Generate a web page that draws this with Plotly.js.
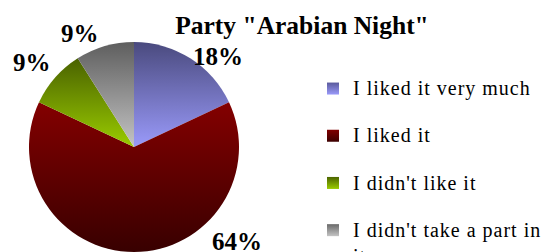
<!DOCTYPE html>
<html>
<head>
<meta charset="utf-8">
<script src="https://cdn.plot.ly/plotly-3.0.1.min.js"></script>
<style>
  html, body { margin: 0; padding: 0; background: #fff; }
  #chart { width: 548px; height: 252px; }
  .legendtext { font-size: 20px !important; letter-spacing: 1px; }
</style>
</head>
<body>
<div id="chart"></div>
<script>
// ---- data ----
const categories = ["I liked it very much", "I liked it", "I didn't like it", "I didn't take a part in it"];
const values = [18, 64, 9, 9];
const chartTitle = 'Party "Arabian Night"';

// ---- styles ----
const baseColors = ["#7777cc", "#600000", "#77a000", "#909090"];
const sliceGrad = [["#4a4a7e", "#9a9afa"], ["#840000", "#380000"], ["#4a6200", "#9acc00"], ["#5e5e5e", "#c4c4c4"]];
const legGrad = [["#5a5a9c", "#9a9afa"], ["#800000", "#3c0000"], ["#4c6400", "#9acc00"], ["#6a6a6a", "#c4c4c4"]];

// wrap legend labels (long ones break, short ones get an empty 2nd line for spacing)
function wrapLabel(s) {
  const lim = 23;
  if (s.length <= lim) return s + '<br> ';
  const cut = s.lastIndexOf(' ', lim);
  return s.slice(0, cut) + '<br>' + s.slice(cut + 1);
}

const total = values.reduce((a, b) => a + b, 0);
const pctText = values.map(v => Math.round(v / total * 100) + '%');

const serif = 'Liberation Serif, Times New Roman, serif';

const data = [{
  type: 'pie',
  labels: categories.map(wrapLabel),
  values: values,
  sort: false,
  direction: 'clockwise',
  rotation: 0,
  textinfo: 'none',
  hoverinfo: 'none',
  marker: { colors: baseColors, line: { width: 0 } },
  domain: { x: [29 / 548, 239 / 548], y: [0, 210 / 252] }
}];

// label placement (paper coords) for the percentage labels, in slice order
const labelPos = [[0.398, 0.776], [0.433, 0.040], [0.058, 0.752], [0.146, 0.868]];

const layout = {
  width: 548, height: 252,
  margin: { l: 0, r: 0, t: 0, b: 0, autoexpand: false },
  paper_bgcolor: '#ffffff',
  font: { family: serif, color: '#000' },
  title: {
    text: '<b>' + chartTitle + '</b>',
    font: { family: serif, size: 25.5, color: '#000' },
    x: 302 / 548, xanchor: 'center', xref: 'paper',
    y: 1 - 25 / 252, yanchor: 'middle', yref: 'container'
  },
  showlegend: true,
  legend: {
    x: 313 / 548, xanchor: 'left',
    y: 1 - 71 / 252, yanchor: 'top',
    font: { family: serif, size: 17, color: '#000' },
    valign: 'top',
    bgcolor: 'rgba(0,0,0,0)'
  },
  annotations: pctText.map((t, i) => ({
    text: '<b>' + t + '</b>',
    x: labelPos[i][0], y: labelPos[i][1], xref: 'paper', yref: 'paper',
    xanchor: 'center', yanchor: 'middle', showarrow: false,
    font: { family: serif, size: 25, color: '#000' }
  }))
};

Plotly.newPlot('chart', data, layout, { staticPlot: true, displayModeBar: false }).then(gd => {
  const svg = gd.querySelector('svg.main-svg');
  let defs = svg.querySelector('defs');
  const NS = 'http://www.w3.org/2000/svg';
  function addGrad(id, c) {
    const g = document.createElementNS(NS, 'linearGradient');
    g.setAttribute('id', id);
    g.setAttribute('x1', '0'); g.setAttribute('y1', '0');
    g.setAttribute('x2', '0'); g.setAttribute('y2', '1');
    [[0, c[0]], [1, c[1]]].forEach(([o, col]) => {
      const s = document.createElementNS(NS, 'stop');
      s.setAttribute('offset', o);
      s.setAttribute('stop-color', col);
      g.appendChild(s);
    });
    defs.appendChild(g);
  }
  sliceGrad.forEach((c, i) => addGrad('sg' + i, c));
  legGrad.forEach((c, i) => addGrad('lg' + i, c));
  gd.querySelectorAll('.slice path.surface').forEach((p, i) => { p.style.fill = 'url(#sg' + i + ')'; });
  gd.querySelectorAll('.legend .traces').forEach((t, i) => {
    t.querySelectorAll('.legendpoints path').forEach(p => { p.style.fill = 'url(#lg' + i + ')'; p.style.stroke = 'none'; });
  });
});
</script>
</body>
</html>
